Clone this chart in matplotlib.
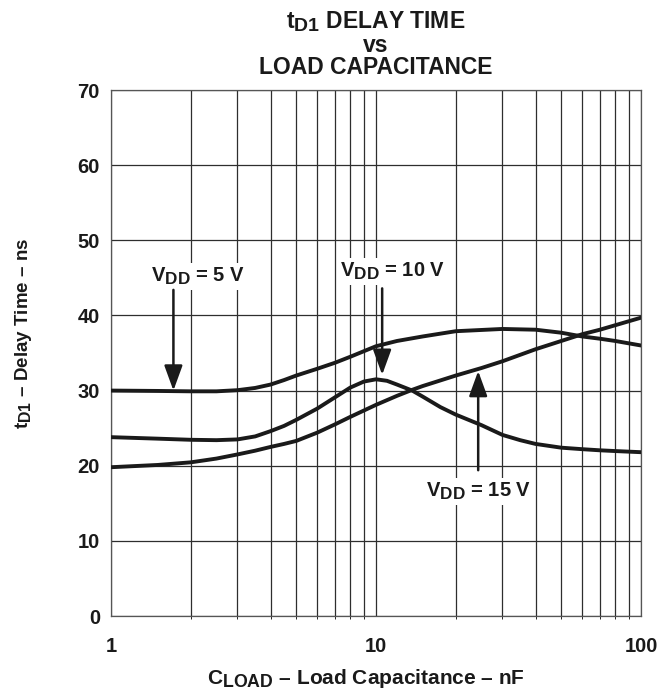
import numpy as np
import matplotlib
matplotlib.use("Agg")
import matplotlib.pyplot as plt
import matplotlib._mathtext as mathtext

# the datasheet uses fairly large subscripts
mathtext.SHRINK_FACTOR = 0.85

plt.rcParams['font.family'] = ['Liberation Sans', 'DejaVu Sans']
plt.rcParams['font.weight'] = 'bold'
plt.rcParams['mathtext.fontset'] = 'custom'
plt.rcParams['mathtext.rm'] = 'Liberation Sans:bold'
plt.rcParams['mathtext.bf'] = 'Liberation Sans:bold'
plt.rcParams['mathtext.default'] = 'rm'

INK = '#1a1a1a'

# load capacitance (nF) and delay time (ns)
c_5v = [1, 1.5, 2, 2.5, 3, 3.5, 4, 4.5, 5, 6, 7, 8, 10, 12, 15, 20, 30, 40,
        50, 60, 70, 80, 100]
t_5v = [30.0, 29.95, 29.9, 29.9, 30.05, 30.35, 30.8, 31.4, 32.0, 32.9, 33.7,
        34.5, 35.9, 36.6, 37.2, 37.9, 38.2, 38.1, 37.7, 37.2, 36.9, 36.6, 36.0]

c_10v = [1, 1.5, 2, 2.5, 3, 3.5, 4, 4.5, 5, 6, 7, 8, 9, 10, 11, 12, 13.7, 15,
         17.5, 20, 25, 30, 35, 40, 50, 60, 70, 80, 100]
t_10v = [23.8, 23.6, 23.45, 23.4, 23.5, 23.9, 24.6, 25.3, 26.1, 27.6, 29.1,
         30.4, 31.2, 31.5, 31.3, 30.8, 30.0, 29.2, 27.8, 26.8, 25.4, 24.1, 23.4,
         22.9, 22.4, 22.2, 22.05, 21.95, 21.8]

c_15v = [1, 1.5, 2, 2.5, 3, 3.5, 4, 4.5, 5, 6, 7, 8, 10, 12, 13.7, 15, 20, 25,
         30, 40, 50, 60, 70, 80, 100]
t_15v = [19.8, 20.1, 20.45, 20.95, 21.5, 22.0, 22.5, 22.9, 23.3, 24.4, 25.5,
         26.5, 28.1, 29.3, 30.1, 30.6, 32.0, 33.0, 33.9, 35.5, 36.6, 37.5,
         38.1, 38.7, 39.7]

# label text, label position, arrow tail and tip
labels = ['V$_{\\mathrm{DD}}$ = 5 V', 'V$_{\\mathrm{DD}}$ = 10 V', 'V$_{\\mathrm{DD}}$ = 15 V']
label_xy = [(2.12, 45.2), (11.5, 45.9), (24.3, 16.6)]
arrow_tail = [(1.72, 43.4), (10.55, 43.6), (24.3, 19.4)]
arrow_tip = [(1.72, 30.0), (10.55, 32.1), (24.3, 32.6)]

fig = plt.figure(figsize=(6.6, 6.95), dpi=100)
ax = fig.add_axes([111 / 660, 79 / 695, 530 / 660, 526 / 695])

ax.set_xscale('log')
ax.set_xlim(1, 100)
ax.set_ylim(0, 70)
ax.set_xticks([1, 10, 100])
ax.set_xticklabels(['1', '10', '100'])
ax.set_yticks(np.arange(0, 71, 10))
ax.tick_params(length=0, labelsize=14.5)
ax.tick_params(axis='x', pad=15)
ax.tick_params(axis='y', pad=8)
for lab in ax.get_xticklabels() + ax.get_yticklabels():
    lab.set_fontweight('bold')
    lab.set_color(INK)

ax.grid(True, which='both', axis='x', color='#2e2e2e', lw=0.9)
ax.grid(True, which='major', axis='y', color='#2e2e2e', lw=0.9)
for s in ax.spines.values():
    s.set_color('#555555')
    s.set_linewidth(0.9)

for c, t in [(c_5v, t_5v), (c_10v, t_10v), (c_15v, t_15v)]:
    ax.plot(c, t, color=INK, lw=2.8, solid_capstyle='round',
            solid_joinstyle='round', zorder=3)

for txt, xy, tail, tip in zip(labels, label_xy, arrow_tail, arrow_tip):
    ax.text(xy[0], xy[1], txt, ha='center', va='center', fontsize=14.5,
            fontweight='bold', color=INK, zorder=4,
            bbox=dict(facecolor='white', edgecolor='none', pad=2))
    ax.annotate('', xy=tip, xytext=tail, zorder=4,
                arrowprops=dict(arrowstyle='-|>,head_width=0.4,head_length=1.1',
                                mutation_scale=14, lw=1.8, color=INK,
                                shrinkA=0, shrinkB=0))

ax.set_xlabel('C$_{\\mathrm{LOAD}}$ \u2013 Load Capacitance \u2013 nF',
              fontsize=15, fontweight='bold', color=INK)
ax.xaxis.set_label_coords(0.481, -0.097)
ax.set_ylabel('t$_{\\mathrm{D1}}$ \u2013 Delay Time \u2013 ns',
              fontsize=13.5, fontweight='bold', color=INK)
ax.yaxis.set_label_coords(-0.146, 0.538)

cx = (111 + 530 / 2) / 660
fig.text(cx, 1 - 22 / 695, 't$_{\\mathrm{D1}}$ DELAY TIME', ha='center', va='center',
         fontsize=16.5, fontweight='bold', color=INK)
fig.text(cx, 1 - 46 / 695, 'vs', ha='center', va='center',
         fontsize=16.5, fontweight='bold', color=INK)
fig.text(cx, 1 - 68 / 695, 'LOAD CAPACITANCE', ha='center', va='center',
         fontsize=16.5, fontweight='bold', color=INK)

fig.savefig('out.png', dpi=100)
